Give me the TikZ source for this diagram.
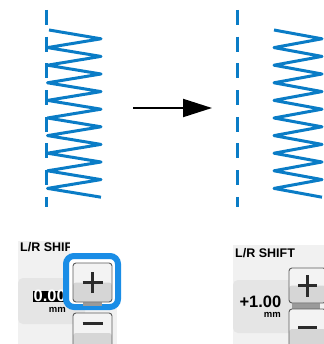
\documentclass[tikz,border=0pt]{standalone}
\usepackage{fontspec}
\setmainfont{Liberation Sans}
\usetikzlibrary{arrows.meta}
\definecolor{stitch}{HTML}{0A7CC6}
\definecolor{hilite}{HTML}{1A8DE6}
\definecolor{panelbg}{HTML}{F1F1F1}
\definecolor{valbg}{HTML}{E5E5E5}
\definecolor{btnhi}{HTML}{F3F3F3}
\definecolor{btnlo}{HTML}{D6D6D6}
\definecolor{btnedge}{HTML}{5C5C5C}
\definecolor{glyph}{HTML}{2B2B2B}
\definecolor{barcol}{HTML}{9A9A9A}
\begin{document}
\begin{tikzpicture}[x=1pt,y=-1pt,
  dashline/.style={stitch, line width=3pt, dash pattern=on 15pt off 11.7pt},
  zig/.style={stitch, line width=3pt, line join=round},
  btn/.style={draw=btnedge, line width=0.9pt, rounded corners=3pt, fill=btnhi, inner sep=0pt,
    path picture={\fill[btnlo] (path picture bounding box.west) rectangle (path picture bounding box.south east);}},
  glyphline/.style={glyph, line width=3pt},
  title/.style={font=\bfseries\fontsize{12.5}{14}\selectfont, anchor=base west, inner sep=0pt},
  valtext/.style={font=\bfseries\fontsize{16.5}{18}\selectfont, inner sep=0pt},
  unit/.style={font=\bfseries\fontsize{9.5}{11}\selectfont, anchor=base east, inner sep=0pt},
  arrowline/.style={line width=2pt, -{Triangle[length=29pt,width=18pt]}}
]
\useasboundingbox (0,0) rectangle (323,344);

% stitch patterns
\coordinate (dlTop) at (46.7,10);
\coordinate (dlBot) at (46.7,207);
\draw[dashline] (dlTop) -- (dlBot);
\draw[zig] (49,30) \foreach \k in {0,...,8}{ -- (101,{38.8+17.6*\k}) -- (47.5,{47.6+17.6*\k}) } -- (101,197.2);

\coordinate (drTop) at (237.7,10);
\coordinate (drBot) at (237.7,207);
\draw[dashline] (drTop) -- (drBot);
\draw[zig] (274,30) \foreach \k in {0,...,8}{ -- (322,{38.8+17.6*\k}) -- (274,{47.6+17.6*\k}) } -- (322,197.2);

% arrow
\coordinate (arrS) at (133,108);
\coordinate (arrE) at (212,108);
\draw[arrowline] (arrS) -- (arrE);

% left panel
\fill[panelbg] (18,241) rectangle (117,344);
\node[title] (titleL) at (20,251.5) {L/R SHIFT};
\fill[valbg, rounded corners=5pt] (18,278) rectangle (85,324);
\node[valtext, fill=black, text=white, inner sep=0.5pt, text height=10.5pt, text depth=0pt, anchor=north west] (valL) at (33,290.5) {0.00};
\node[unit] (unitL) at (66,312) {mm};
\fill[white] (70,238) rectangle (122,257);
\draw[hilite, line width=6pt, fill=white, rounded corners=8pt] (66,256) rectangle (118,307);
\fill[barcol] (83,302) rectangle (102,306);
\node[btn, minimum width=39pt, minimum height=39pt] (plusL) at (92.5,282.5) {};
\draw[glyphline] ([xshift=-10pt]plusL.center) -- ([xshift=10pt]plusL.center);
\draw[glyphline] ([yshift=-10.5pt]plusL.center) -- ([yshift=10.5pt]plusL.center);
\node[btn, minimum width=39pt, minimum height=40pt] (minusL) at (92.5,333) {};
\draw[glyphline] ([xshift=-10pt,yshift=10pt]minusL.center) -- ([xshift=10pt,yshift=10pt]minusL.center);

% right panel
\fill[panelbg] (233,245) rectangle (330,344);
\node[title] (titleR) at (235,257) {L/R SHIFT};
\fill[valbg, rounded corners=5pt] (233,280) rectangle (300,333);
\node[valtext, anchor=base east] (valR) at (281.5,307) {+1.00};
\node[unit] (unitR) at (281,317.5) {mm};
\fill[barcol] (292,303) rectangle (320,309);
\node[btn, minimum width=37pt, minimum height=35pt] (plusR) at (307.5,285.5) {};
\draw[glyphline] ([xshift=-9.5pt]plusR.center) -- ([xshift=9.5pt]plusR.center);
\draw[glyphline] ([yshift=-11pt]plusR.center) -- ([yshift=11pt]plusR.center);
\node[btn, minimum width=37pt, minimum height=40pt] (minusR) at (307.5,329) {};
\draw[glyphline] ([xshift=-9.5pt,yshift=2pt]minusR.center) -- ([xshift=9.5pt,yshift=2pt]minusR.center);
\end{tikzpicture}
\end{document}
